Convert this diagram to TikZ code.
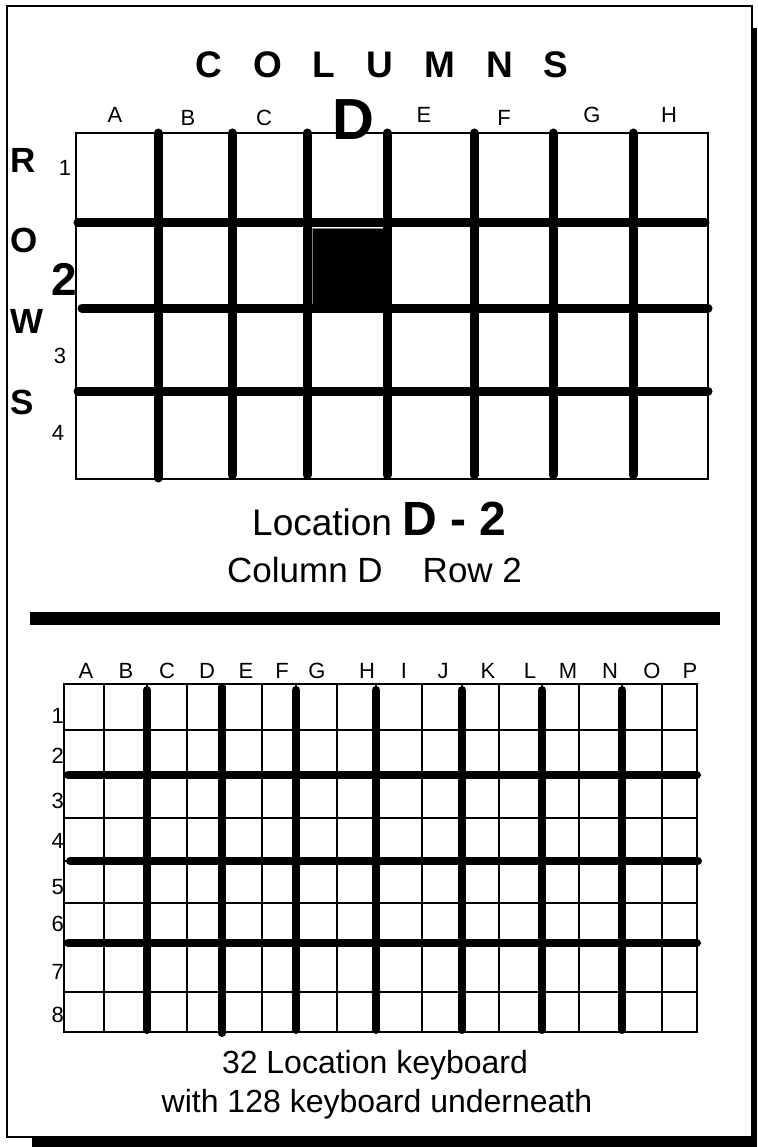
\documentclass[tikz,border=0pt]{standalone}
\usepackage{fontspec}
\setmainfont{Liberation Sans}
\tikzset{
  txt/.style={inner sep=0pt, anchor=base},
  small/.style={txt, font=\fontsize{22}{24}\selectfont},
  rowletter/.style={inner sep=0pt, anchor=base west, font=\bfseries\fontsize{35}{38}\selectfont},
  heavytop/.style={line width=9pt, line cap=round},
  heavybot/.style={line width=8pt, line cap=round},
  thingrid/.style={line width=2pt},
}
\begin{document}
\begin{tikzpicture}[x=1pt,y=-1pt]
\useasboundingbox (0,0) rectangle (757,1147);
% page frame with shadow
\fill[black] (32,28) rectangle (757,1147);
\draw[line width=2pt, fill=white] (7,6) rectangle (752,1137);

% title
\node[txt, font=\bfseries\fontsize{37}{40}\selectfont] (title) at (382,78) {\spaceskip=31pt plus 0pt C O L U M N S};

% top column labels
\node[small] (tA) at (115,123) {A};
\node[small] (tB) at (188,126) {B};
\node[small] (tC) at (264,126) {C};
\node[txt, font=\bfseries\fontsize{58}{60}\selectfont] (tD) at (353,140) {D};
\node[small] (tE) at (424,123) {E};
\node[small] (tF) at (504,126) {F};
\node[small] (tG) at (592,123) {G};
\node[small] (tH) at (669,123) {H};

% ROWS letters
\node[rowletter] (rR) at (10,173) {R};
\node[rowletter] (rO) at (10,253) {O};
\node[rowletter] (rW) at (10,333) {W};
\node[rowletter] (rS) at (10,414) {S};

% top row numbers
\node[small] (t1) at (65,176) {1};
\node[txt, font=\bfseries\fontsize{46}{48}\selectfont] (t2) at (64,295) {2};
\node[small] (t3) at (60,363) {3};
\node[small] (t4) at (58,440) {4};

% top grid
\draw[line width=1.3pt] (76,133) rectangle (708,479);
\fill[black] (312,228) rectangle (387,308);
\draw[gray, line width=0.7pt] (312,308) -- (312,228) -- (387,228);
\draw[heavytop] (78,223) -- (705,223);
\draw[heavytop] (82,308) -- (708,308);
\draw[heavytop] (78,391) -- (708,391);
\draw[heavytop] (158,133) -- (158,478);
\draw[heavytop] (232,133) -- (232,475);
\draw[heavytop] (307,133) -- (307,475);
\draw[heavytop] (387,133) -- (387,475);
\draw[heavytop] (474,133) -- (474,475);
\draw[heavytop] (553,133) -- (553,475);
\draw[heavytop] (633,133) -- (633,475);

% location texts
\node[txt, anchor=base west, font=\fontsize{37}{40}\selectfont] (loc) at (252,535)
  {Location {\bfseries\fontsize{48}{50}\selectfont D - 2}};
\node[txt, anchor=base west, font=\fontsize{35}{38}\selectfont] (colrow) at (227,582)
  {Column D\hspace{40pt}Row 2};

% separator
\draw[line width=13pt] (30,618) -- (720,618);

% bottom column labels
\foreach \l/\x in {A/86,B/126,C/167,D/207,E/246,F/282,G/317,H/367,I/404,J/443,K/488,L/530,M/568,N/610,O/652,P/690}
  \node[small] (b\l) at (\x,678) {\l};
% bottom row labels
\foreach \n/\y in {1/723,2/763,3/808,4/848,5/894,6/931,7/979,8/1022}
  \node[small, anchor=base east] (r\n) at (64,\y) {\n};

% bottom grid thin lines
\draw[thingrid] (64,684) rectangle (697,1032);
\foreach \x in {104,147,187,222,262,296,337,376,422,462,499,542,579,622,662}
  \draw[thingrid] (\x,684) -- (\x,1032);
\foreach \y in {730,775,818,861,903,943,992}
  \draw[thingrid] (64,\y) -- (697,\y);

% bottom grid heavy lines
\draw[heavybot] (68,775) -- (697,775);
\draw[heavybot] (70,861) -- (698,861);
\draw[heavybot] (68,943) -- (697,943);
\draw[heavybot] (147,690) -- (147,1030);
\draw[heavybot] (222,687) -- (222,1033);
\draw[heavybot] (296,690) -- (296,1030);
\draw[heavybot] (376,690) -- (376,1030);
\draw[heavybot] (462,690) -- (462,1030);
\draw[heavybot] (542,690) -- (542,1030);
\draw[heavybot] (622,690) -- (622,1030);

% caption
\node[txt, font=\fontsize{32}{36}\selectfont] (cap1) at (375,1073) {32 Location keyboard};
\node[txt, font=\fontsize{32}{36}\selectfont] (cap2) at (377,1112) {with 128 keyboard underneath};
\end{tikzpicture}
\end{document}
